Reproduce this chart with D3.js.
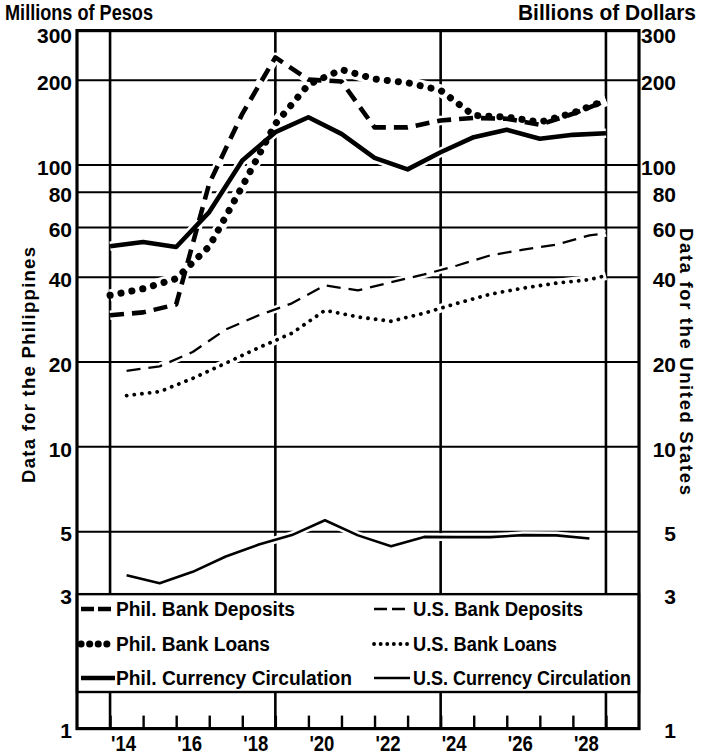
<!DOCTYPE html>
<html><head><meta charset="utf-8">
<script src="https://cdn.jsdelivr.net/npm/d3@7"></script>
<style>
html,body{margin:0;padding:0;background:#fff;}
svg text{font-family:"Liberation Sans",Arial,sans-serif;font-weight:bold;fill:#000;}
</style></head><body>
<svg id="c" width="704" height="756"></svg>
<script>
// ---------- data ----------
const philYears = [1914,1915,1916,1917,1918,1919,1920,1921,1922,1923,1924,1925,1926,1927,1928,1929];
const philDeposits = [29.3,30.0,32.0,86,152,241,201,198,136,136,144,147,146,139,152,169];
const philLoans    = [34.5,36.4,39.5,51.4,84,140,193,218,202,196,184,150,148,142,153,170];
const philCurrency = [51.5,53.3,51.2,68.1,103.8,130.8,147.8,129,106,96.5,111,125.6,133.4,124,128,129.7];
const usYears = [1914.5,1915.5,1916.5,1917.5,1918.5,1919.5,1920.5,1921.5,1922.5,1923.5,1924.5,1925.5,1926.5,1927.5,1928.5,1929];
const usDeposits = [18.6,19.3,21.7,26.1,29.3,32.3,37.4,35.9,38.4,40.9,44,47.8,50.1,52.2,56.3,57.3];
const usLoans    = [15.2,15.7,17.5,19.8,22.5,25.3,30.5,28.9,27.9,29.8,32.3,34.8,36.6,38.1,39.2,40.5];
const usCurrency = [3.5,3.28,3.6,4.08,4.5,4.86,5.49,4.85,4.44,4.79,4.78,4.78,4.86,4.85,4.73];
const yTickValues = [300,200,100,80,60,40,20,10,5,3,1];
const yGridValues = [200,100,80,60,40,20,10,5];
const xTickYears = [1914,1915,1916,1917,1918,1919,1920,1921,1922,1923,1924,1925,1926,1927,1928,1929];
const xGridYears = [1914,1919,1924,1929];
const xLabelYears = [1914,1916,1918,1920,1922,1924,1926,1928];
const xLabels = ["'14","'16","'18","'20","'22","'24","'26","'28"];
const legendLeft = ["Phil. Bank Deposits","Phil. Bank Loans","Phil. Currency Circulation"];
const legendRight = ["U.S. Bank Deposits","U.S. Bank Loans","U.S. Currency Circulation"];

// ---------- styles ----------
const styles = {
  philDeposits:{w:4.6,dash:"14,8",cap:"butt"},
  philLoans:{w:7,dash:"0.1,11",cap:"round"},
  philCurrency:{w:4.6,dash:null,cap:"butt"},
  usDeposits:{w:2.3,dash:"14,8",cap:"butt"},
  usLoans:{w:3.8,dash:"0.1,7.6",cap:"round"},
  usCurrency:{w:2.6,dash:null,cap:"butt"}
};
const series = [
  {key:"philDeposits",xs:philYears,vs:philDeposits},
  {key:"philLoans",xs:philYears,vs:philLoans},
  {key:"philCurrency",xs:philYears,vs:philCurrency},
  {key:"usDeposits",xs:usYears,vs:usDeposits},
  {key:"usLoans",xs:usYears,vs:usLoans},
  {key:"usCurrency",xs:usYears.slice(0,usCurrency.length),vs:usCurrency}
];

const svg = d3.select("#c");
const x = d3.scaleLinear().domain([1913,1930]).range([77,639]);
const y = d3.scaleLog().domain([1,300]).range([728.6,30.6]);
const L = x(1913), R = x(1930), T = y(300), B = y(1);

// gridlines
svg.append("g").selectAll("line").data(yGridValues).join("line")
  .attr("x1",L).attr("x2",R).attr("y1",d=>y(d)).attr("y2",d=>y(d))
  .attr("stroke","#000").attr("stroke-width",2);
svg.append("g").selectAll("line").data(xGridYears).join("line")
  .attr("x1",d=>x(d)).attr("x2",d=>x(d)).attr("y1",T).attr("y2",B)
  .attr("stroke","#000").attr("stroke-width",2.6);

// lines
const line = d3.line().x(d=>x(d[0])).y(d=>y(d[1]));
const pts = s => s.xs.map((xx,i)=>[xx,s.vs[i]]);
svg.append("g").selectAll("path").data(series).join("path")
  .attr("d",s=>line(pts(s))).attr("fill","none").attr("stroke","#fff")
  .attr("stroke-width",s=>styles[s.key].w+5).attr("stroke-linejoin","round");
svg.append("g").selectAll("path").data(series).join("path")
  .attr("d",s=>line(pts(s))).attr("fill","none").attr("stroke","#000")
  .attr("stroke-width",s=>styles[s.key].w)
  .attr("stroke-dasharray",s=>styles[s.key].dash)
  .attr("stroke-linecap",s=>styles[s.key].cap)
  .attr("stroke-linejoin","round");

// legend box
const LT = y(3), LB = 692;
svg.append("rect").attr("x",L).attr("y",LT).attr("width",R-L).attr("height",LB-LT)
  .attr("fill","#fff").attr("stroke","#000").attr("stroke-width",2.4);
const rowY = [609,644,678];
const leftKeys = ["philDeposits","philLoans","philCurrency"];
const rightKeys = ["usDeposits","usLoans","usCurrency"];
const lg = svg.append("g");
lg.selectAll("line.l").data(leftKeys).join("line").attr("class","l")
  .attr("x1",81).attr("x2",115).attr("y1",(d,i)=>rowY[i]).attr("y2",(d,i)=>rowY[i])
  .attr("stroke","#000").attr("stroke-width",d=>styles[d].w)
  .attr("stroke-dasharray",d=>styles[d].dash==="14,8"?"13,4":styles[d].dash===null?null:"0.1,8.5")
  .attr("stroke-linecap",d=>styles[d].cap);
lg.selectAll("line.r").data(rightKeys).join("line").attr("class","r")
  .attr("x1",374).attr("x2",410).attr("y1",(d,i)=>rowY[i]).attr("y2",(d,i)=>rowY[i])
  .attr("stroke","#000").attr("stroke-width",d=>styles[d].w)
  .attr("stroke-dasharray",d=>styles[d].dash==="14,8"?"13,5":styles[d].dash===null?null:"0.1,6.5")
  .attr("stroke-linecap",d=>styles[d].cap);
const leftW = [179,154,236], rightW = [170,144,218];
lg.selectAll("text.l").data(legendLeft).join("text").attr("class","l")
  .attr("x",116).attr("y",(d,i)=>rowY[i]+7).attr("font-size",20)
  .attr("textLength",(d,i)=>leftW[i]).attr("lengthAdjust","spacingAndGlyphs").text(d=>d);
lg.selectAll("text.r").data(legendRight).join("text").attr("class","r")
  .attr("x",413).attr("y",(d,i)=>rowY[i]+7).attr("font-size",20)
  .attr("textLength",(d,i)=>rightW[i]).attr("lengthAdjust","spacingAndGlyphs").text(d=>d);

// frame
svg.append("rect").attr("x",L).attr("y",T).attr("width",R-L).attr("height",B-T)
  .attr("fill","none").attr("stroke","#000").attr("stroke-width",3.2);

// x axis ticks
const xAxis = d3.axisBottom(x).tickValues(xTickYears).tickSize(-13).tickFormat("");
const gx = svg.append("g").attr("transform",`translate(0,${B})`).call(xAxis);
gx.select(".domain").remove();
gx.selectAll(".tick line").attr("stroke","#000").attr("stroke-width",2.4);
svg.append("g").selectAll("text").data(xLabelYears).join("text")
  .attr("x",d=>x(d)+1).attr("y",751).attr("font-size",22)
  .attr("textLength",25).attr("lengthAdjust","spacingAndGlyphs").text((d,i)=>xLabels[i]);

// y axes labels
const fmt = d3.format("d");
const gyl = svg.append("g").attr("transform",`translate(${L},0)`)
  .call(d3.axisLeft(y).tickValues(yTickValues).tickFormat(fmt).tickSize(0).tickPadding(5));
const gyr = svg.append("g").attr("transform",`translate(681,0)`)
  .call(d3.axisLeft(y).tickValues(yTickValues).tickFormat(fmt).tickSize(0).tickPadding(5));
[gyl,gyr].forEach(g=>{
  g.select(".domain").remove();
  g.selectAll("text").attr("font-size",21).attr("dy",d=>d===300?"0.56em":"0.44em")
    .style("font-family","'Liberation Sans',sans-serif").attr("fill","#000");
});

// titles
svg.append("text").attr("x",5).attr("y",20).attr("font-size",21.5)
  .attr("textLength",148).attr("lengthAdjust","spacingAndGlyphs").text("Millions of Pesos");
svg.append("text").attr("x",518).attr("y",20).attr("font-size",21.5)
  .attr("textLength",178).attr("lengthAdjust","spacingAndGlyphs").text("Billions of Dollars");
svg.append("text").attr("transform","translate(35,365) rotate(-90)").attr("text-anchor","middle")
  .attr("font-size",18.5).attr("textLength",236).text("Data for the Philippines");
svg.append("text").attr("transform","translate(680,228) rotate(90)")
  .attr("font-size",18.5).attr("textLength",267).text("Data for the United States");
</script>
</body></html>
